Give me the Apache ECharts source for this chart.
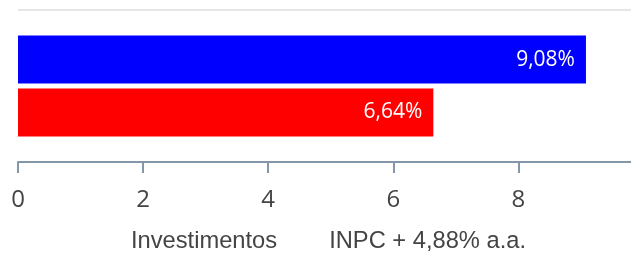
<!DOCTYPE html>
<html>
<head>
<meta charset="utf-8">
<script src="https://cdn.jsdelivr.net/npm/echarts@6/dist/echarts.min.js"></script>
<style>
  html, body { margin: 0; padding: 0; background: #fff; }
  #chart { width: 631px; height: 253px; }
</style>
</head>
<body>
<div id="chart"></div>
<script>
// chart values
const categories = [''];
const seriesNames = ['Investimentos', 'INPC + 4,88% a.a.'];
const investimentos = [9.08];
const inpc = [6.64];
const seriesColors = ['#0000ff', '#ff0000'];

function pct(v) {
  return v.toFixed(2).replace('.', ',') + '%';
}

const chart = echarts.init(document.getElementById('chart'));

function barLabel() {
  return {
    show: true,
    position: 'insideRight',
    distance: 11,
    color: '#fff',
    fontFamily: 'Open Sans',
    fontSize: 21,
    formatter: p => pct(p.value),
  };
}

const option = {
  animation: false,
  grid: {
    left: 18,
    right: 0,
    top: 10,
    bottom: 91,
    containLabel: false,
  },
  legend: {
    bottom: 0,
    left: 126,
    padding: [0, 0, 0, 0],
    icon: 'none',
    itemWidth: 0,
    itemGap: 47,
    data: seriesNames,
    textStyle: {
      fontFamily: 'Liberation Sans',
      fontSize: 23.7,
      color: '#444',
    },
  },
  xAxis: {
    type: 'value',
    min: 0,
    max: 9.8,
    interval: 2,
    axisLine: { show: true, lineStyle: { color: '#8497a8', width: 2 } },
    axisTick: { show: true, length: 11, lineStyle: { color: '#8497a8', width: 2 } },
    axisLabel: {
      margin: 26,
      fontFamily: 'Open Sans',
      fontSize: 24,
      color: '#444',
      showMaxLabel: false,
    },
    splitLine: { show: false },
  },
  yAxis: {
    type: 'category',
    data: categories,
    axisLine: { show: false },
    axisTick: { show: false },
    axisLabel: { show: false },
    splitLine: { show: true, lineStyle: { color: '#e6e6e6', width: 2 } },
  },
  series: [
    {
      name: seriesNames[0],
      type: 'bar',
      data: investimentos,
      barWidth: 48,
      barGap: '10%',
      itemStyle: { color: seriesColors[0] },
      label: barLabel(),
    },
    {
      name: seriesNames[1],
      type: 'bar',
      data: inpc,
      barWidth: 48,
      barGap: '10%',
      itemStyle: { color: seriesColors[1] },
      label: barLabel(),
    },
  ],
};

chart.setOption(option);
</script>
</body>
</html>
